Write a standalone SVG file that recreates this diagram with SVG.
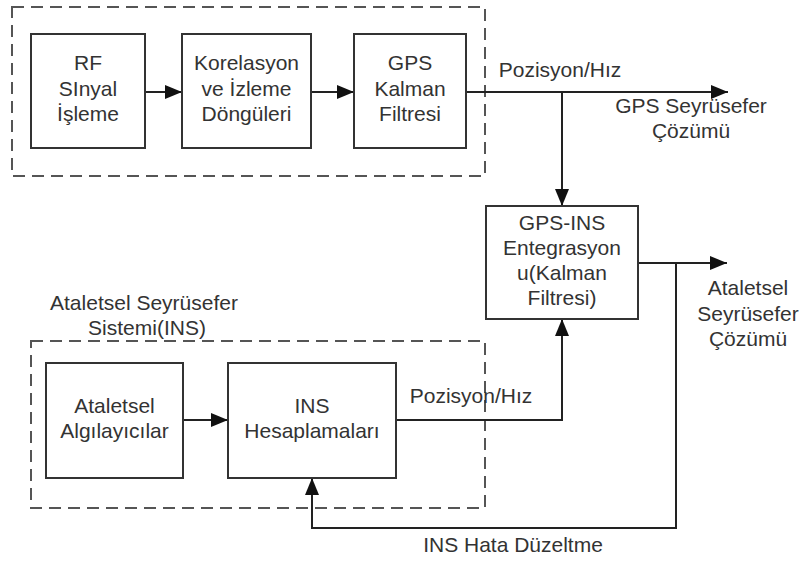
<svg xmlns="http://www.w3.org/2000/svg" width="804" height="563" viewBox="0 0 804 563">
  <style>
    text { font-family: "Liberation Sans", Arial, sans-serif; font-size: 21px; fill: #333; text-anchor: middle; }
    .box { fill: #fff; stroke: #333; stroke-width: 2; }
    .group { fill: none; stroke: #555; stroke-width: 2; stroke-dasharray: 12 7; }
    .wire { fill: none; stroke: #222; stroke-width: 2; }
    .arrow { marker-end: url(#head); }
  </style>
  <defs>
    <marker id="head" markerUnits="userSpaceOnUse" markerWidth="17" markerHeight="14" refX="17" refY="7" orient="auto">
      <path d="M0,0 L17,7 L0,14 z" fill="#111"/>
    </marker>
  </defs>
  <rect width="804" height="563" fill="#fff"/>

  <!-- subsystem frames -->
  <g id="gps-receiver">
    <rect class="group" x="12" y="7" width="473" height="169"/>
  </g>
  <g id="ins-system">
    <rect class="group" x="31" y="341" width="454" height="167"/>
    <text x="144" y="310">Ataletsel Seyrüsefer</text>
    <text x="147" y="335">Sistemi(INS)</text>
  </g>

  <!-- connectors -->
  <g id="connectors">
    <line class="wire arrow" x1="145" y1="92" x2="182" y2="92"/>
    <line class="wire arrow" x1="311" y1="92" x2="354" y2="92"/>
    <line class="wire arrow" x1="466" y1="92" x2="728" y2="92"/>
    <line class="wire arrow" x1="562" y1="92" x2="562" y2="206"/>
    <line class="wire arrow" x1="183" y1="420" x2="228" y2="420"/>
    <polyline class="wire arrow" points="396,420 562,420 562,319"/>
    <line class="wire arrow" x1="638" y1="263" x2="727" y2="263"/>
    <polyline class="wire arrow" points="676,263 676,528 312,528 312,478"/>
    <text x="560" y="77">Pozisyon/Hız</text>
    <text x="691" y="113">GPS Seyrüsefer</text>
    <text x="691" y="138">Çözümü</text>
    <text x="471" y="403">Pozisyon/Hız</text>
    <text x="513" y="552">INS Hata Düzeltme</text>
    <text x="748" y="295">Ataletsel</text>
    <text x="748" y="321">Seyrüsefer</text>
    <text x="748" y="346">Çözümü</text>
  </g>

  <!-- processing blocks -->
  <g id="rf">
    <rect class="box" x="31" y="34" width="114" height="114"/>
    <text x="88" y="70">RF</text>
    <text x="88" y="96">SInyal</text>
    <text x="88" y="121">İşleme</text>
  </g>
  <g id="correlation">
    <rect class="box" x="182" y="34" width="129" height="114"/>
    <text x="246.5" y="70">Korelasyon</text>
    <text x="246.5" y="96">ve İzleme</text>
    <text x="246.5" y="121">Döngüleri</text>
  </g>
  <g id="gps-kalman">
    <rect class="box" x="354" y="34" width="112" height="114"/>
    <text x="410" y="70">GPS</text>
    <text x="410" y="96">Kalman</text>
    <text x="410" y="121">Filtresi</text>
  </g>
  <g id="integration">
    <rect class="box" x="486" y="206" width="152" height="113"/>
    <text x="562" y="230">GPS-INS</text>
    <text x="562" y="255">Entegrasyon</text>
    <text x="562" y="280">u(Kalman</text>
    <text x="562" y="305">Filtresi)</text>
  </g>
  <g id="sensors">
    <rect class="box" x="46" y="363" width="137" height="115"/>
    <text x="114.5" y="413">Ataletsel</text>
    <text x="114.5" y="438">Algılayıcılar</text>
  </g>
  <g id="ins-computation">
    <rect class="box" x="228" y="363" width="168" height="115"/>
    <text x="312" y="413">INS</text>
    <text x="312" y="438">Hesaplamaları</text>
  </g>
</svg>
